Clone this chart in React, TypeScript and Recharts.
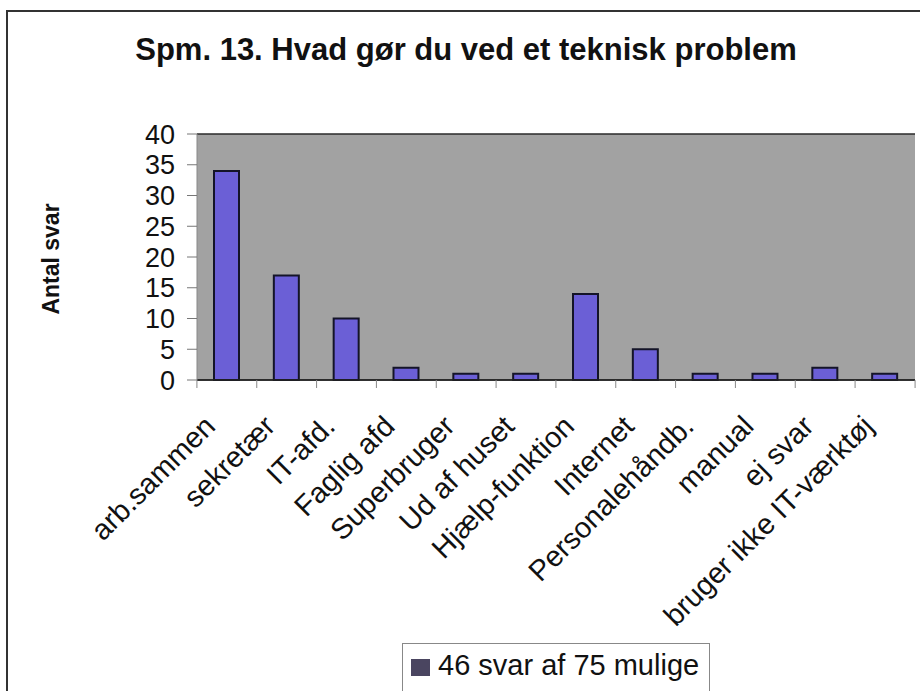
import React from 'react';
import { BarChart, Bar, XAxis, YAxis, CartesianGrid, Legend } from 'recharts';

const categories = [
  'arb.sammen',
  'sekretær',
  'IT-afd.',
  'Faglig afd',
  'Superbruger',
  'Ud af huset',
  'Hjælp-funktion',
  'Internet',
  'Personalehåndb.',
  'manual',
  'ej svar',
  'bruger ikke IT-værktøj',
];
const antal = [34, 17, 10, 2, 1, 1, 14, 5, 1, 1, 2, 1];
const yTicks = [0, 5, 10, 15, 20, 25, 30, 35, 40];
const seriesName = '46 svar af 75 mulige';
const title = 'Spm. 13. Hvad gør du ved et teknisk problem';
const yLabel = 'Antal svar';

const data = categories.map((c, i) => ({ kategori: c, antal: antal[i] }));

const FONT = '"Liberation Sans", Arial, sans-serif';
const HALF_BAND = 30;

const XTick = (props: any) => {
  const { x, y, payload, index } = props;
  const last = index === categories.length - 1;
  return (
    <g>
      <line x1={x - HALF_BAND} y1={y} x2={x - HALF_BAND} y2={y + 8} stroke="#888" />
      {last && <line x1={x + HALF_BAND} y1={y} x2={x + HALF_BAND} y2={y + 8} stroke="#888" />}
      <text
        x={x - 10}
        y={y + 48}
        textAnchor="end"
        transform={`rotate(-45, ${x - 10}, ${y + 48})`}
        fontSize={29}
        fontFamily={FONT}
        fill="#111"
      >
        {payload.value}
      </text>
    </g>
  );
};

const LegendBox = (props: any) => {
  const item = props.payload && props.payload[0];
  return (
    <div
      style={{
        border: '1px solid #888',
        height: 60,
        boxSizing: 'border-box',
        display: 'flex',
        alignItems: 'flex-start',
        paddingTop: 5,
        paddingLeft: 8,
        fontFamily: FONT,
        fontSize: 29,
        color: '#111',
        background: '#fff',
        whiteSpace: 'nowrap',
      }}
    >
      <span style={{ display: 'inline-block', width: 19, height: 17, background: '#4a4560', marginTop: 10, marginRight: 8 }} />
      <span>{item ? item.value : seriesName}</span>
    </div>
  );
};

export default function App() {
  return (
    <div
      style={{
        position: 'absolute',
        left: 0,
        top: 0,
        width: 920,
        height: 691,
        overflow: 'hidden',
        background: '#fff',
        fontFamily: FONT,
      }}
    >
      <div
        style={{
          position: 'absolute',
          left: 6,
          top: 10,
          width: 960,
          height: 720,
          border: '2px solid #333',
        }}
      />
      <div
        style={{
          position: 'absolute',
          left: 0,
          top: 34,
          width: 932,
          textAlign: 'center',
          fontSize: 31,
          lineHeight: '31px',
          fontWeight: 'bold',
          color: '#111',
          whiteSpace: 'nowrap',
        }}
      >
        {title}
      </div>
      <div
        style={{
          position: 'absolute',
          left: 51,
          top: 259,
          transform: 'translate(-50%, -50%) rotate(-90deg)',
          fontSize: 23,
          fontWeight: 'bold',
          color: '#111',
          whiteSpace: 'nowrap',
        }}
      >
        {yLabel}
      </div>
      <div style={{ position: 'absolute', left: 0, top: 0 }}>
        <BarChart
          width={920}
          height={691}
          data={data}
          margin={{ top: 134, right: 5, bottom: 251, left: 0 }}
        >
          <CartesianGrid vertical={false} stroke="#2a2a2a" strokeWidth={1.5} fill="#a2a2a2" fillOpacity={1} />
          <XAxis
            dataKey="kategori"
            interval={0}
            height={60}
            tickLine={false}
            tickSize={0}
            tickMargin={0}
            axisLine={{ stroke: '#222', strokeWidth: 1.5 }}
            tick={<XTick />}
          />
          <YAxis
            yAxisId="left"
            width={197}
            domain={[0, 40]}
            ticks={yTicks}
            interval={0}
            tickSize={10}
            tickMargin={12}
            tickLine={{ stroke: '#777' }}
            axisLine={{ stroke: '#888' }}
            tick={{ fontSize: 27, fill: '#111', fontFamily: FONT }}
          />
          <YAxis
            yAxisId="right"
            orientation="right"
            width={0}
            domain={[0, 40]}
            tick={false}
            tickLine={false}
            axisLine={{ stroke: '#333', strokeWidth: 1.5 }}
          />
          <Legend
            verticalAlign="middle"
            layout="horizontal"
            content={<LegendBox />}
            wrapperStyle={{ left: 402, top: 643, width: 308, height: 60 }}
          />
          <Bar
            yAxisId="left"
            dataKey="antal"
            name={seriesName}
            fill="#6b5fd6"
            stroke="#141428"
            strokeWidth={2}
            barSize={25}
            isAnimationActive={false}
          />
        </BarChart>
      </div>
    </div>
  );
}
